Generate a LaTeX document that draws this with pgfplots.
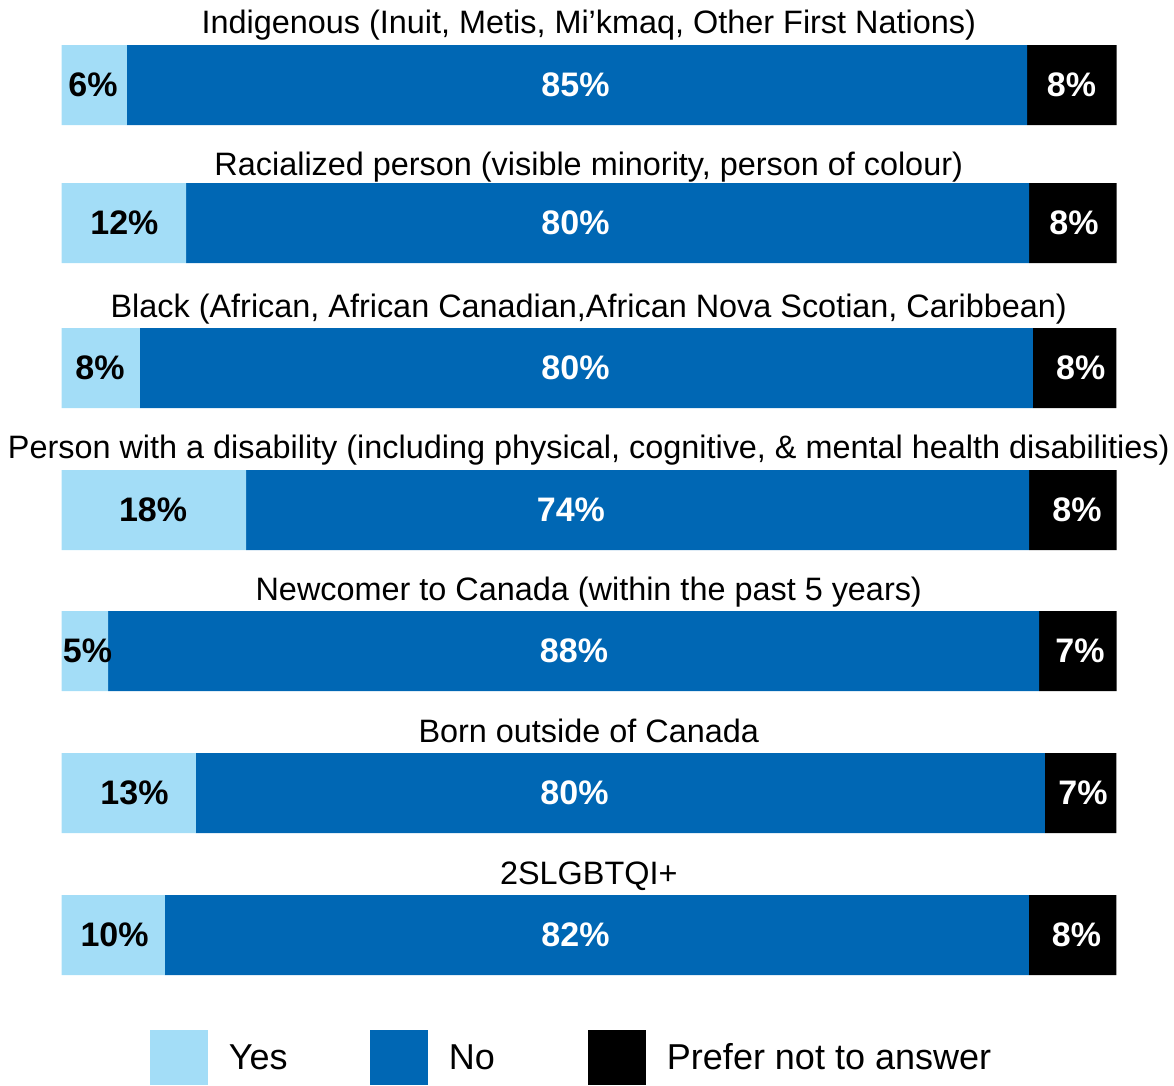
\documentclass[border=0pt]{standalone}
\usepackage{pgfplots}
\usepackage{pgfplotstable}
\pgfplotsset{compat=1.18}
\usepackage{fontspec}
\setmainfont{Liberation Sans}
\definecolor{yescol}{HTML}{A3DDF7}
\definecolor{nocol}{HTML}{0067B4}
\definecolor{pnacol}{HTML}{000000}
\newcommand\titfont{\fontsize{32.4}{38}\selectfont}
\newcommand\labfont{\fontsize{34}{40}\selectfont\bfseries}
\newcommand\legfont{\fontsize{36}{42}\selectfont}

% bar segment lengths (share of bar) and printed labels with their positions
\pgfplotstableread{
y yes no pna yl nl pl yx nx px
85 6.21 85.35 8.49 6 85 8 2.99 48.74 95.78
223 11.81 79.94 8.30 12 80 8 5.97 48.74 96.02
368 7.44 84.68 7.92 8 80 8 3.65 48.74 96.65
510 17.50 74.25 8.30 18 74 8 8.68 48.31 96.30
651 4.41 88.29 7.35 5 88 7 2.47 48.60 96.59
793 12.75 80.51 6.78 13 80 7 6.92 48.65 96.87
935 9.81 81.93 8.30 10 82 8 5.03 48.74 96.25
}\datatable

\pgfplotsset{
  legsq/.style={legend image code/.code={\fill[##1] (0pt,-27.5pt) rectangle (58pt,27.5pt);}},
  frame/.style={scale only axis, width=1054.5pt, height=1085pt,
    xmin=0, xmax=100, ymin=0, ymax=1085, y dir=reverse,
    hide axis, clip=false},
}

\begin{document}
\begin{tikzpicture}
\begin{axis}[
  frame,
  xbar stacked, bar width=80pt,
  legend columns=-1,
  legend cell align=left,
  legend style={draw=none, fill=none, inner sep=0pt, outer sep=0pt,
    at={(axis cs:8.39,1057.5)}, anchor=west, font=\legfont,
    /tikz/every odd column/.append style={column sep=21pt},
    /tikz/every even column/.append style={column sep=0pt},
    nodes={inner sep=0pt}},
]
\addplot[fill=yescol, draw=none, legsq] table[x=yes, y=y] {\datatable};
\addlegendentry{\makebox[141pt][l]{Yes}}
\addplot[fill=nocol, draw=none, legsq] table[x=no, y=y] {\datatable};
\addlegendentry{\makebox[139pt][l]{No}}
\addplot[fill=pnacol, draw=none, legsq] table[x=pna, y=y] {\datatable};
\addlegendentry{Prefer not to answer}

\node[anchor=base, font=\titfont, inner sep=0pt] at (axis cs:50,33) {Indigenous (Inuit, Metis, Mi’kmaq, Other First Nations)};
\node[anchor=base, font=\titfont, inner sep=0pt] at (axis cs:50,175) {Racialized person (visible minority, person of colour)};
\node[anchor=base, font=\titfont, inner sep=0pt] at (axis cs:50,317) {Black (African, African Canadian,African Nova Scotian, Caribbean)};
\node[anchor=base, font=\titfont, inner sep=0pt] at (axis cs:50,458) {Person with a disability (including physical, cognitive, \& mental health disabilities)};
\node[anchor=base, font=\titfont, inner sep=0pt] at (axis cs:50,600) {Newcomer to Canada (within the past 5 years)};
\node[anchor=base, font=\titfont, inner sep=0pt] at (axis cs:50,742.7) {Born outside of Canada};
\node[anchor=base, font=\titfont, inner sep=0pt] at (axis cs:50,884) {2SLGBTQI+};
\end{axis}
\begin{axis}[
  frame,
  point meta=explicit,
  /pgf/number format/assume math mode=true,
  nodes near coords={\pgfmathprintnumber{\pgfplotspointmeta}\%},
  every node near coord/.append style={font=\labfont, inner sep=0pt, anchor=center},
]
\addplot[only marks, mark=none, every node near coord/.append style={text=black}]
  table[x=yx, y=y, meta=yl] {\datatable};
\addplot[only marks, mark=none, every node near coord/.append style={text=white}]
  table[x=nx, y=y, meta=nl] {\datatable};
\addplot[only marks, mark=none, every node near coord/.append style={text=white}]
  table[x=px, y=y, meta=pl] {\datatable};
\end{axis}
\path ([xshift=-61.5pt]current axis.south west) rectangle ([xshift=58pt]current axis.north east);
\end{tikzpicture}
\end{document}
